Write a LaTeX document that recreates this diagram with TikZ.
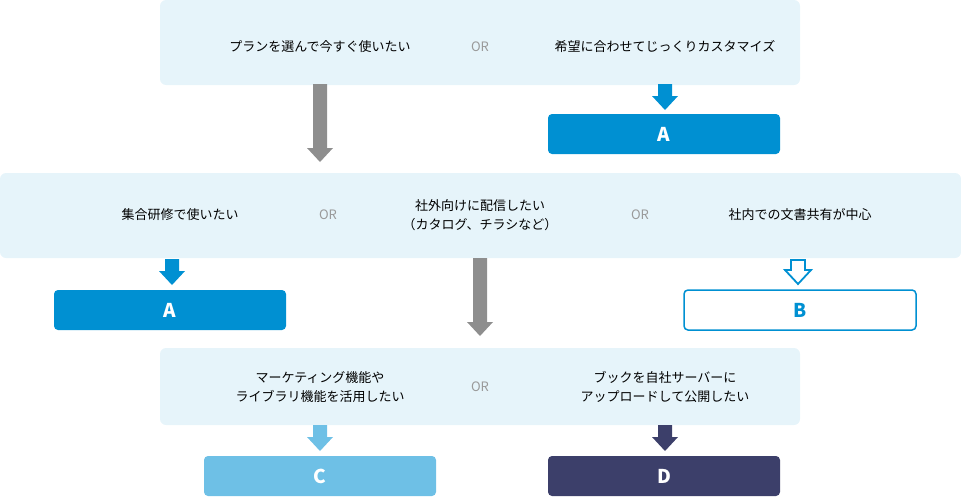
\documentclass[tikz,border=0pt]{standalone}
\usepackage{fontspec}
\setmainfont{Noto Sans CJK JP}
\usetikzlibrary{positioning}
\definecolor{bandbg}{HTML}{E6F4FA}
\definecolor{blueA}{HTML}{0090D2}
\definecolor{blueC}{HTML}{6EC0E6}
\definecolor{navyD}{HTML}{3C3F6A}
\definecolor{orgray}{HTML}{9A9A9A}
\definecolor{arrgray}{HTML}{8E8E8E}
\tikzset{
  band/.style={fill=bandbg, rounded corners=6pt, inner sep=0pt},
  choice/.style={font=\fontsize{13}{19}\selectfont, align=center, text=black},
  ortext/.style={font=\fontsize{13}{15}\selectfont, text=orgray},
  result/.style={rounded corners=4pt, minimum width=232pt, minimum height=40pt,
    inner sep=0pt, font=\fontsize{19}{19}\selectfont\bfseries, text=white},
}
% block arrow: style, x, top y, bottom y
\newcommand{\fatarrow}[4]{%
  \path[#1] (#2-7,#3) -- (#2+7,#3) -- (#2+7,#4-14) -- (#2+13,#4-14)
    -- (#2,#4) -- (#2-13,#4-14) -- (#2-7,#4-14) -- cycle;}
\begin{document}
\begin{tikzpicture}[x=1pt,y=-1pt]
  \useasboundingbox (0,0) rectangle (961,498);
  %top band
  \fill[band] (160,0) rectangle (800,85);
  \node[choice] (plan) at (320,47) {プランを選んで今すぐ使いたい};
  \node[ortext] (or1) at (480,47) {OR};
  \node[choice] (custom) at (665,47) {希望に合わせてじっくりカスタマイズ};
  \node[result, fill=blueA] (a1) at (664,134) {A};
  \fatarrow{fill=arrgray}{320}{84}{162}
  \fatarrow{fill=blueA}{665}{84}{110}
  %middle band
  \fill[band] (0,173) rectangle (961,258);
  \node[choice] (train) at (180,215) {集合研修で使いたい};
  \node[ortext] (or2) at (328,215) {OR};
  \node[choice] (ext) at (480,215) {社外向けに配信したい\\（カタログ、チラシなど）};
  \node[ortext] (or3) at (640,215) {OR};
  \node[choice] (share) at (800,215) {社内での文書共有が中心};
  \node[result, fill=blueA] (a2) at (170,310) {A};
  \node[result, fill=white, draw=blueA, line width=1.5pt, text=blueA] (b) at (800,310) {B};
  \fatarrow{fill=blueA}{172}{259}{285}
  \fatarrow{draw=blueA, line width=1.8pt, fill=white}{798}{260}{284}
  \fatarrow{fill=arrgray}{480}{258}{336}
  %bottom band
  \fill[band] (160,348) rectangle (800,425);
  \node[choice] (mkt) at (320,387) {マーケティング機能や\\ライブラリ機能を活用したい};
  \node[ortext] (or4) at (480,387) {OR};
  \node[choice] (upl) at (665,387) {ブックを自社サーバーに\\アップロードして公開したい};
  \node[result, fill=blueC] (c) at (320,476) {C};
  \node[result, fill=navyD] (d) at (664,476) {D};
  \fatarrow{fill=blueC}{320}{425}{451}
  \fatarrow{fill=navyD}{665}{425}{451}
\end{tikzpicture}
\end{document}
